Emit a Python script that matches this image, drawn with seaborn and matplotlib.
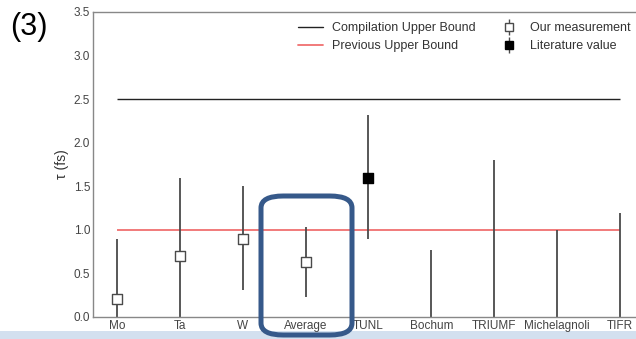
import numpy as np
import pandas as pd
import matplotlib
matplotlib.use("Agg")
import matplotlib.pyplot as plt
import seaborn as sns
from matplotlib.lines import Line2D
from matplotlib.legend_handler import HandlerTuple
from matplotlib.patches import FancyBboxPatch, Rectangle

# data
labels = ['Mo', 'Ta', 'W', 'Average', 'TUNL', 'Bochum', 'TRIUMF', 'Michelagnoli', 'TIFR']
values = [0.21, 0.70, 0.90, 0.63, 1.60, np.nan, np.nan, np.nan, np.nan]
err_low = [0.0, 0.0, 0.31, 0.23, 0.89, 0.0, 0.0, 0.0, 0.0]
err_high = [0.90, 1.59, 1.50, 1.03, 2.32, 0.77, 1.80, 1.00, 1.19]
kind = ['ours', 'ours', 'ours', 'ours', 'lit', 'lit', 'lit', 'lit', 'lit']
compilation_bound = 2.5
previous_bound = 1.0

df = pd.DataFrame({'label': labels, 'x': range(len(labels)), 'tau': values,
                   'lo': err_low, 'hi': err_high, 'kind': kind})

sns.set_style("white")
plt.rcParams['font.family'] = ['Liberation Sans', 'DejaVu Sans']

fig = plt.figure(figsize=(6.36, 3.39), dpi=100)
ax = fig.add_axes([0.146, 0.065, 0.854, 0.8997])

bar_col = '#4a4a4a'
ax.hlines(compilation_bound, 0, len(labels) - 1, color='#222222', lw=1.0)
ax.hlines(previous_bound, 0, len(labels) - 1, color='#f07070', lw=1.3)
ax.vlines(df['x'], df['lo'], df['hi'], color=bar_col, lw=1.3, zorder=2)

ours = df[df['kind'] == 'ours']
lit = df[(df['kind'] == 'lit') & df['tau'].notna()]
sns.scatterplot(data=ours, x='x', y='tau', marker='s', s=60, color='white',
                edgecolor=bar_col, linewidth=1.0, zorder=3, ax=ax)
sns.scatterplot(data=lit, x='x', y='tau', marker='s', s=60, color='black',
                edgecolor='black', linewidth=1.0, zorder=3, ax=ax)

ax.set_xlim(-0.382, 8.254)
ax.set_ylim(0, 3.5)
ax.set_xticks(df['x'])
ax.set_xticklabels(labels)
ax.set_yticks(np.arange(0, 3.51, 0.5))
ax.set_yticklabels([f'{v:.1f}' for v in np.arange(0, 3.51, 0.5)])
ax.tick_params(axis='both', labelsize=8.5, labelcolor='#444444', length=0, pad=2)
ax.set_xlabel('')
ax.set_ylabel('τ (fs)', fontsize=10, color='#333333', labelpad=3)
for s in ['left', 'bottom', 'top']:
    ax.spines[s].set_color('#888888')
    ax.spines[s].set_linewidth(1.0)
ax.spines['right'].set_visible(False)

tick = Line2D([], [], color=bar_col, lw=1.0, marker='|', markersize=11, linestyle='none')
handles = [Line2D([], [], color='#222222', lw=1.0),
           Line2D([], [], color='#f07070', lw=1.3),
           (tick, Line2D([], [], marker='s', markersize=6, markerfacecolor='white',
                         markeredgecolor=bar_col, linestyle='none')),
           (tick, Line2D([], [], marker='s', markersize=6, markerfacecolor='black',
                         markeredgecolor='black', linestyle='none'))]
texts = ['Compilation Upper Bound', 'Previous Upper Bound', 'Our measurement', 'Literature value']
fig.legend(handles, texts, ncol=2, frameon=False, fontsize=9, loc='upper left',
           bbox_to_anchor=(298 / 636, 1 - 22 / 339), borderpad=0, borderaxespad=0,
           handlelength=2.0, columnspacing=1.6, handletextpad=0.75, labelspacing=0.5,
           labelcolor='#333333', handler_map={tuple: HandlerTuple(ndivide=1)})

fig.text(0.016, 0.92, '(3)', fontsize=22, va='center', ha='left', color='black')

# highlight box around the average
fig.patches.append(FancyBboxPatch((261 / 636, 4 / 339), 91 / 636, 139 / 339,
                                  boxstyle='round,pad=0,rounding_size=0.035',
                                  transform=fig.transFigure, fill=False,
                                  edgecolor='#36598a', linewidth=3.6, zorder=10))
fig.patches.append(Rectangle((0, 0), 1, 8 / 339, transform=fig.transFigure,
                             facecolor='#d3e0ef', edgecolor='none', zorder=-1))

fig.savefig('out.png', dpi=100)
